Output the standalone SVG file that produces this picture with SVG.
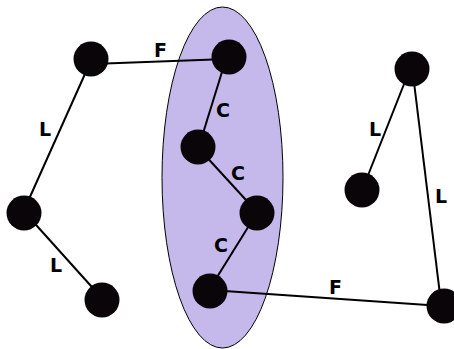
<svg xmlns="http://www.w3.org/2000/svg" width="454" height="349" viewBox="0 0 454 349">
<style>
.n{fill:#0a0508}
.e{stroke:#000;stroke-width:2;fill:none}
.t{font-family:"DejaVu Sans",sans-serif;font-weight:bold;font-size:19px;fill:#000}
</style>
<rect width="454" height="349" fill="#fff"/>
<ellipse id="cluster" cx="222.5" cy="177.5" rx="60.5" ry="170.5" fill="#c5b9ec" stroke="#000" stroke-width="1"/>
<g id="connectors">
<line class="e" x1="92" y1="64" x2="227" y2="59"/>
<line class="e" x1="226" y1="59" x2="200" y2="143"/>
<line class="e" x1="202" y1="152" x2="257" y2="212"/>
<line class="e" x1="255" y1="216" x2="209" y2="290"/>
<line class="e" x1="210" y1="290" x2="442" y2="306"/>
<line class="e" x1="89" y1="65" x2="25" y2="208"/>
<line class="e" x1="28" y1="216" x2="100" y2="296"/>
<line class="e" x1="408" y1="74" x2="363" y2="188"/>
<line class="e" x1="413" y1="74" x2="441" y2="303"/>
</g>
<g id="nA"><circle class="n" cx="91" cy="59" r="17.5"/></g>
<g id="nB"><circle class="n" cx="229" cy="57" r="17.5"/></g>
<g id="nC"><circle class="n" cx="198" cy="147" r="17.5"/></g>
<g id="nD"><circle class="n" cx="257" cy="213" r="17.5"/></g>
<g id="nE"><circle class="n" cx="210" cy="291" r="17.5"/></g>
<g id="nF"><circle class="n" cx="24" cy="213" r="17.5"/></g>
<g id="nG"><circle class="n" cx="102" cy="300" r="17.5"/></g>
<g id="nH"><circle class="n" cx="412" cy="69" r="17.5"/></g>
<g id="nI"><circle class="n" cx="362" cy="190" r="17.5"/></g>
<g id="nJ"><circle class="n" cx="444" cy="306" r="17.5"/></g>
<g id="labels">
<text class="t" x="154" y="57">F</text>
<text class="t" x="216" y="117">C</text>
<text class="t" x="231" y="180">C</text>
<text class="t" x="214" y="252">C</text>
<text class="t" x="39" y="136">L</text>
<text class="t" x="50" y="272">L</text>
<text class="t" x="369" y="136">L</text>
<text class="t" x="435" y="203">L</text>
<text class="t" x="329" y="294">F</text>
</g>
</svg>
